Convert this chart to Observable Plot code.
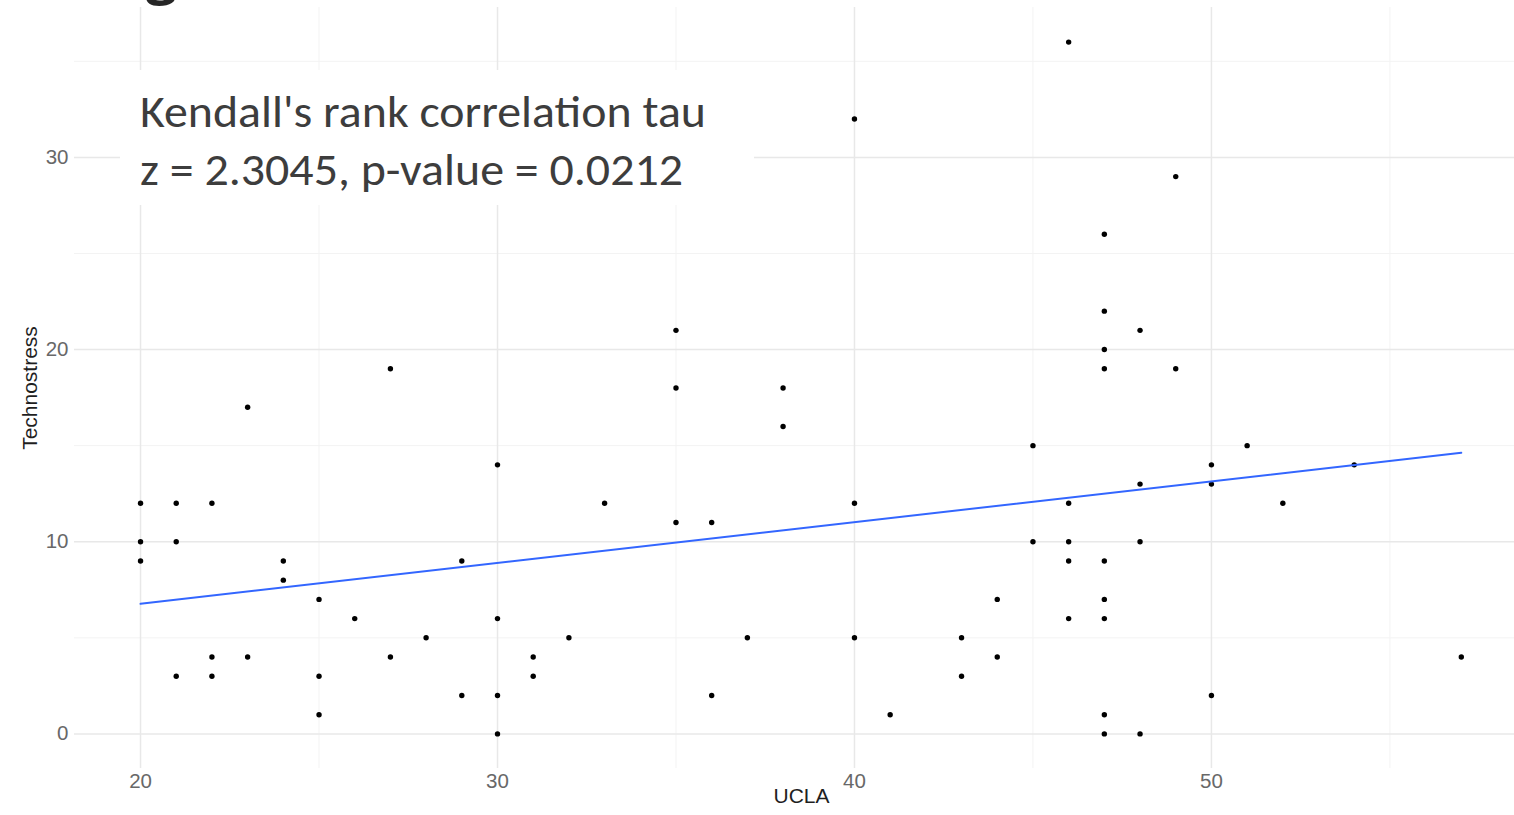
<!DOCTYPE html>
<html>
<head>
<meta charset="utf-8">
<script src="https://cdn.jsdelivr.net/npm/d3@7"></script>
<script src="https://cdn.jsdelivr.net/npm/@observablehq/plot@0.6"></script>
<style>
  html, body { margin: 0; padding: 0; background: white; overflow: hidden; }
  #chart { position: relative; width: 1514px; height: 815px; }
</style>
</head>
<body>
<div id="chart"></div>
<script>
// ---- data ----
const ucla = [20,20,20,21,21,21,22,22,22,23,23,24,24,25,25,25,26,27,27,28,29,29,30,30,30,30,31,31,32,33,35,35,35,36,36,37,38,38,40,40,40,41,43,43,44,44,45,45,46,46,46,46,46,47,47,47,47,47,47,47,47,47,48,48,48,48,49,49,50,50,50,51,52,54,57];
const techno = [12,10,9,12,10,3,12,4,3,17,4,9,8,7,3,1,6,19,4,5,9,2,14,6,2,0,4,3,5,12,21,18,11,11,2,5,18,16,32,12,5,1,5,3,7,4,15,10,36,12,10,9,6,26,22,20,19,9,7,6,1,0,21,13,10,0,29,19,14,13,2,15,12,14,4];
// fitted (lm) line as drawn in the reference: ends
const fitX = [20, 57];
const fitY = [6.77, 14.63];
const xMajor = [20, 30, 40, 50];
const xMinor = [25, 35, 45, 55];
const yMajor = [0, 10, 20, 30];
const yMinor = [5, 15, 25, 35];
const xTitle = "UCLA";
const yTitle = "Technostress";
const annotationLines = ["Kendall's rank correlation tau", "z = 2.3045, p-value = 0.0212"];

const data = ucla.map((u, i) => ({UCLA: u, Technostress: techno[i]}));
const fit = fitX.map((x, i) => ({UCLA: x, Technostress: fitY[i]}));

const plot = Plot.plot({
  width: 1514,
  height: 815,
  marginLeft: 74,
  marginRight: 0,
  marginTop: 7,
  marginBottom: 47,
  x: {domain: [18.15, 58.49]},
  y: {domain: [-1.8, 37.8]},
  style: {fontFamily: "'Liberation Sans', Arial, sans-serif", background: "white"},
  marks: [
    Plot.gridX(xMinor, {stroke: "#f3f3f3", strokeOpacity: 1, strokeWidth: 1}),
    Plot.gridY(yMinor, {stroke: "#f3f3f3", strokeOpacity: 1, strokeWidth: 1}),
    Plot.gridX(xMajor, {stroke: "#e8e8e8", strokeOpacity: 1, strokeWidth: 1.5}),
    Plot.gridY(yMajor, {stroke: "#e8e8e8", strokeOpacity: 1, strokeWidth: 1.5}),
    Plot.axisX(xMajor, {tickSize: 0, tickPadding: 5, fontSize: 20.5, color: "#686868", label: null}),
    Plot.axisY(yMajor, {tickSize: 0, tickPadding: 6, fontSize: 20.5, color: "#686868", label: null}),
    Plot.text([xTitle], {frameAnchor: "bottom", dx: 7, dy: 34, fontSize: 21, fill: "#1f1f1f"}),
    Plot.text([yTitle], {frameAnchor: "left", textAnchor: "middle", dx: -44, rotate: -90, fontSize: 21, fill: "#1f1f1f"}),
    Plot.dot(data, {x: "UCLA", y: "Technostress", r: 2.7, fill: "black", stroke: "none"}),
    Plot.line(fit, {x: "UCLA", y: "Technostress", stroke: "#3366FF", strokeWidth: 2})
  ]
});

document.getElementById("chart").appendChild(plot);

// ---- annotation box (text box overlaid on the chart) ----
const svg = d3.select(plot);
const ann = svg.append("g").attr("class", "annotation").attr("text-anchor", "start");
ann.append("rect")
  .attr("x", 120).attr("y", 70).attr("width", 634).attr("height", 135)
  .attr("fill", "white");
const lineTargets = [566, 543];
annotationLines.forEach((t, i) => {
  ann.append("text")
    .attr("x", 140)
    .attr("y", 127 + i * 58)
    .attr("text-anchor", "start")
    .attr("font-family", "Carlito, 'Open Sans', sans-serif")
    .attr("font-size", 45)
    .attr("fill", "#3d3d3d")
    .attr("textLength", lineTargets[i])
    .attr("lengthAdjust", "spacingAndGlyphs")
    .text(t);
});
// fragment of a cut-off heading at the very top
svg.append("text")
  .attr("x", 146).attr("y", -7)
  .attr("text-anchor", "start")
  .attr("font-family", "'Open Sans', sans-serif")
  .attr("font-weight", "bold")
  .attr("font-size", 55)
  .attr("fill", "#262626")
  .text("g");
</script>
</body>
</html>
